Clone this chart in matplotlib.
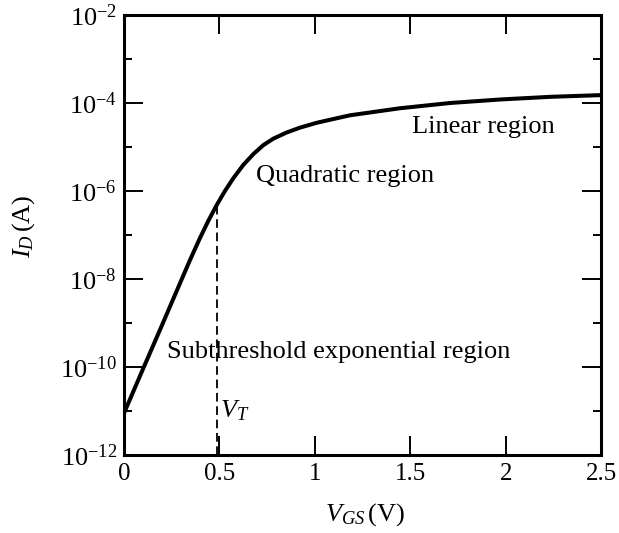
import matplotlib
matplotlib.use("Agg")
import matplotlib.pyplot as plt
from matplotlib.ticker import LogLocator, FixedLocator, NullFormatter

# Drain current vs gate voltage (log scale)
v_gs = [0.0, 0.1, 0.2, 0.294, 0.346, 0.398, 0.442, 0.486, 0.529, 0.573,
        0.625, 0.678, 0.73, 0.783, 0.853, 0.922, 1.01, 1.184, 1.447, 1.71,
        1.97, 2.233, 2.5]
i_d = [8.9e-12, 9.1e-11, 9.1e-10, 8.1e-9, 2.7e-8, 8.5e-8, 2.1e-7, 4.8e-7,
       1.0e-6, 1.95e-6, 3.9e-6, 6.9e-6, 1.1e-5, 1.55e-5, 2.14e-5, 2.75e-5,
       3.55e-5, 5.25e-5, 7.6e-5, 1.0e-4, 1.2e-4, 1.38e-4, 1.51e-4]

v_t = 0.486
i_t = 4.8e-7

region_labels = ["Linear region", "Quadratic region", "Subthreshold exponential region"]
region_pos = [(1.51, 2.1e-5), (0.69, 1.6e-6), (0.225, 1.6e-10)]

plt.rcParams['font.family'] = 'Liberation Serif'
plt.rcParams['mathtext.fontset'] = 'custom'
plt.rcParams['mathtext.rm'] = 'Liberation Serif'
plt.rcParams['mathtext.it'] = 'Liberation Serif:italic'

fig = plt.figure(figsize=(6.19, 5.33), dpi=100)
ax = fig.add_axes([0.2003, 0.1463, 0.7707, 0.8256])

ax.plot(v_gs, i_d, color='black', lw=2.9, solid_capstyle='butt',
        solid_joinstyle='round')
ax.plot([v_t, v_t], [1e-12, i_t], color='black', lw=1.3, dashes=(4.8, 2.6))

ax.set_yscale('log')
ax.set_xlim(0, 2.5)
ax.set_ylim(1e-12, 1e-2)

ax.set_xticks([0, 0.5, 1, 1.5, 2, 2.5])
ax.set_xticklabels(['0', '0.5', '1', '1.5', '2', '2.5'])
ax.yaxis.set_major_locator(LogLocator(base=100))
ax.yaxis.set_minor_locator(FixedLocator([10.0 ** k for k in range(-11, -2, 2)]))
ax.yaxis.set_minor_formatter(NullFormatter())

ax.tick_params(which='major', direction='in', length=14, width=1.4,
               labelsize=19, top=True, right=True, pad=5)
ax.tick_params(axis='x', which='major', labelsize=18, pad=6)
ax.tick_params(which='minor', direction='in', length=6, width=1.4,
               top=True, right=True)
for s in ax.spines.values():
    s.set_linewidth(2.2)

for txt, (x, y) in zip(region_labels, region_pos):
    ax.text(x, y, txt, fontsize=19, va='baseline', ha='left')
ax.text(0.505, 7e-12, r'$V_T$', fontsize=19, va='baseline', ha='left')

ax.set_xlabel(r'$V_{GS}\,$(V)', fontsize=19)
ax.set_ylabel(r'$I_D\,$(A)', fontsize=19)
ax.xaxis.set_label_coords(0.505, -0.105)
ax.yaxis.set_label_coords(-0.182, 0.52)

fig.savefig('out.png', dpi=100)
